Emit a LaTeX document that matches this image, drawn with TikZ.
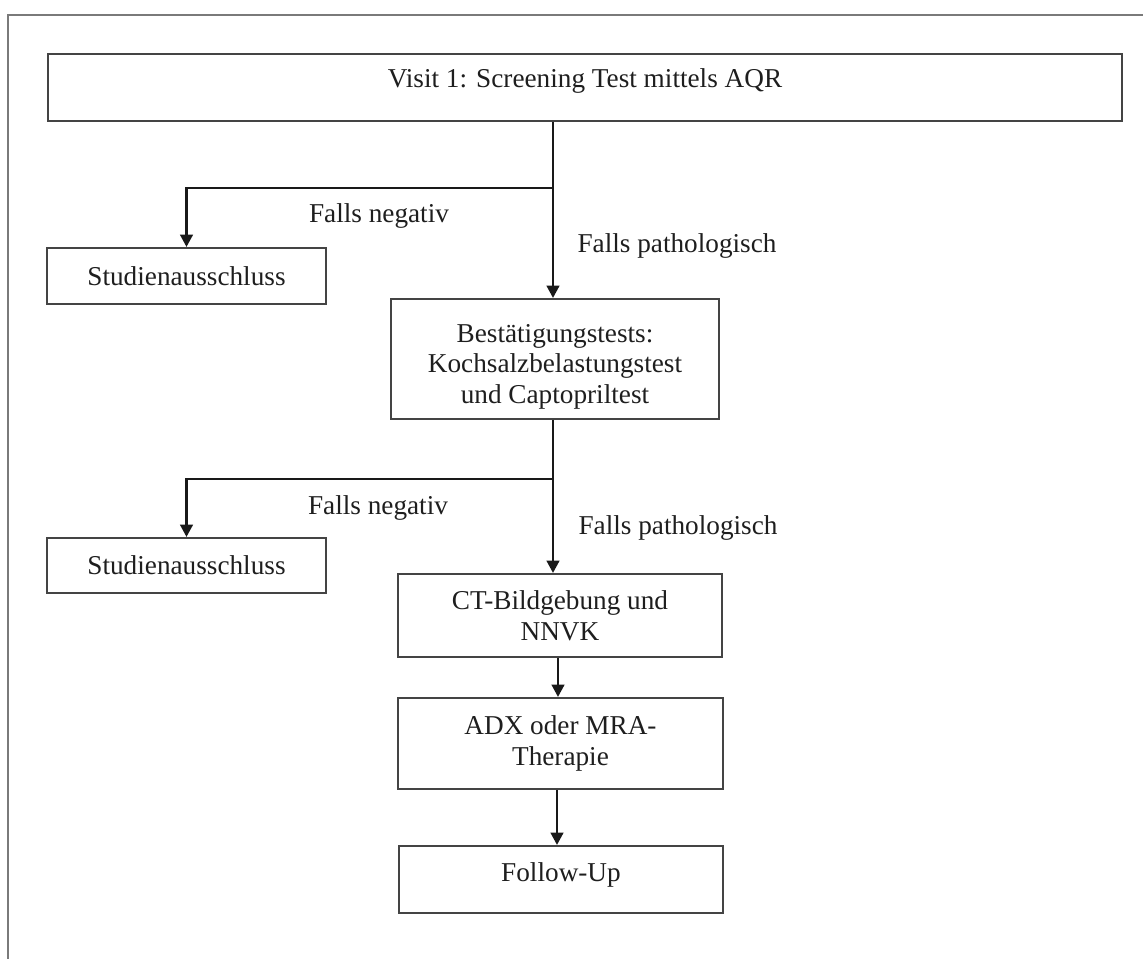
\documentclass[tikz,border=0pt]{standalone}
\usepackage{fontspec}
\setmainfont{Liberation Serif}
\usetikzlibrary{arrows.meta}
\definecolor{framegray}{HTML}{7A7A7A}
\definecolor{boxline}{HTML}{444444}
\definecolor{txt}{HTML}{1E1E1E}
\tikzset{
  box/.style={draw=boxline, line width=1.1pt, align=center, inner sep=0pt, text=txt,
    font=\fontsize{15.5}{17.5}\selectfont},
  lbl/.style={text=txt, inner sep=0pt, font=\fontsize{15.5}{17.5}\selectfont},
  conn/.style={draw=black!90, line width=1.7pt},
  arr/.style={conn, -{Triangle[length=0.25cm,width=0.25cm]}}
}
\begin{document}
\begin{tikzpicture}[x=0.02cm,y=-0.02cm]
\useasboundingbox (0,0) rectangle (1143,959);
% outer frame (left and top edges)
\draw[framegray, line width=1.6pt] (8,959) -- (8,15) -- (1143,15);
% boxes
\node[box, minimum width=1074*0.02cm, minimum height=67*0.02cm] (top) at (585,87.5) {Visit 1: Screening Test mittels AQR\rule[-11pt]{0pt}{11pt}};
\node[box, minimum width=279*0.02cm, minimum height=56*0.02cm] (ex1) at (186.5,276) {Studienausschluss};
\node[box, minimum width=328*0.02cm, minimum height=120*0.02cm] (b2) at (555,359) {\rule{0pt}{19pt}Bestätigungstests:\\Kochsalzbelastungstest\\und Captopriltest};
\node[box, minimum width=279*0.02cm, minimum height=55*0.02cm] (ex2) at (186.5,565.5) {Studienausschluss};
\node[box, minimum width=324*0.02cm, minimum height=83*0.02cm] (b3) at (560,615.5) {CT-Bildgebung und\\NNVK};
\node[box, minimum width=325*0.02cm, minimum height=91*0.02cm] (b4) at (560.5,743.5) {ADX oder MRA-\\Therapie};
\node[box, minimum width=324*0.02cm, minimum height=67*0.02cm] (b5) at (561,879.5) {Follow-Up\rule[-9pt]{0pt}{9pt}};
% junctions
\coordinate (j1) at (553,188);
\coordinate (j2) at (553,479);
% connectors
\draw[conn] (top.south -| j1) -- (j1);
\draw[arr] (j1) -- (j1 |- b2.north);
\draw[arr] (j1) -| (ex1.north);
\draw[conn] (b2.south -| j2) -- (j2);
\draw[arr] (j2) -- (j2 |- b3.north);
\draw[arr] (j2) -| (ex2.north);
\draw[arr] (b3.south -| 558,0) -- (b4.north -| 558,0);
\draw[arr] (b4.south -| 557,0) -- (b5.north -| 557,0);
% labels
\node[lbl] (n1) at (379,216) {Falls negativ};
\node[lbl] (p1) at (677,246) {Falls pathologisch};
\node[lbl] (n2) at (378,508) {Falls negativ};
\node[lbl] (p2) at (678,528) {Falls pathologisch};
\end{tikzpicture}
\end{document}
